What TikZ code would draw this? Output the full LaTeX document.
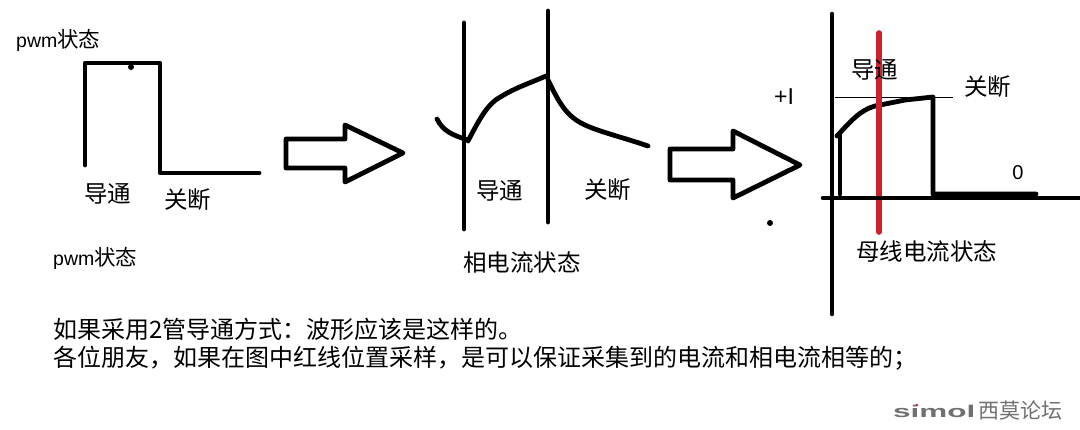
\documentclass[tikz,border=0pt]{standalone}
\usepackage{fontspec}
\setmainfont{Noto Sans CJK SC}
\newfontfamily\latinfont{Liberation Sans}
\definecolor{markred}{RGB}{203,34,48}
\definecolor{logogray}{RGB}{112,112,112}
\newcommand{\pwmword}{{\latinfont\fontsize{19.5}{20}\selectfont pwm}}
\tikzset{
  x=1pt,y=-1pt,
  heavy/.style={draw=black,line width=4.8pt,line cap=round,line join=round},
  axisline/.style={draw=black,line width=4.6pt,line cap=round},
  label/.style={inner sep=0pt,anchor=west,font=\fontsize{23.5}{24}\selectfont},
  pwmlabel/.style={inner sep=0pt,anchor=west,font=\fontsize{21.5}{22}\selectfont},
  body/.style={inner sep=0pt,anchor=west,font=\fontsize{24}{24}\selectfont},
  mathlabel/.style={inner sep=0pt,font=\latinfont\fontsize{20}{20}\selectfont},
}
\begin{document}
\begin{tikzpicture}
\useasboundingbox (0,0) rectangle (1080,429);
\fill[white] (0,0) rectangle (1080,429);

% Gate drive waveform
\draw[heavy] (85,165) -- (85,63) -- (160,63) -- (160,173) -- (259,173);
\fill (131,67) circle (3pt);
\node[pwmlabel] (pwmtop) at (16,40) {\pwmword 状态};
\node[label] (on1) at (84,194) {导通};
\node[label] (off1) at (164,200) {关断};
\node[pwmlabel] (pwmbot) at (53,258) {\pwmword 状态};

% Hollow block arrows between the stages
\draw[heavy] (286,139) -- (345,139) -- (345,125) -- (403,153) -- (345,182) -- (345,168) -- (286,168) -- cycle;
\draw[heavy] (670,149) -- (733,149) -- (733,131) -- (800,165) -- (733,198) -- (733,180) -- (670,180) -- cycle;

% Phase current
\draw[heavy] (464,23) -- (464,229);
\draw[heavy] (548,11) -- (548,222);
\draw[heavy] (437,119) .. controls (443,131) and (452,135) .. (468,140);
\draw[heavy] (468,141) .. controls (480,118) and (488,103) .. (502,96)
             .. controls (515,88) and (530,83) .. (546,76);
\draw[heavy] (548,80) .. controls (558,100) and (565,116) .. (585,125)
             .. controls (600,132) and (625,138) .. (648,146);
\node[label] (on2) at (476,191) {导通};
\node[label] (off2) at (584,190) {关断};
\node[label] (phase) at (463,263) {相电流状态};

% Bus current; the sampling mark lies over the waveform, the time axis over the mark
\draw[axisline] (832,14) -- (832,314);
\draw[black,line width=0.9pt] (835,97) -- (953,97);
\draw[heavy] (840,194) -- (840,136);
\draw[heavy] (837,136) .. controls (850,122) and (860,110) .. (875,106)
             -- (905,100) -- (933,97) -- (933,194) -- (1036,194);
\draw[markred,line width=5.6pt,line cap=round] (879,33) -- (879,232);
\draw[axisline] (823,198) -- (1080,198);
\node[label] (on3) at (851,70) {导通};
\node[label] (off3) at (964,87) {关断};
\node[mathlabel,font=\latinfont\fontsize{23}{23}\selectfont] (plusi) at (784,97) {+I};
\node[mathlabel] (zero) at (1018,173) {0};
\fill (770,223) circle (3pt);
\node[label] (bus) at (856,252) {母线电流状态};

% Notes below the diagram
\node[body] (note1) at (53,329) {如果采用2管导通方式：波形应该是这样的。};
\node[body] (note2) at (53,358) {各位朋友，如果在图中红线位置采样，是可以保证采集到的电流和相电流相等的；};

% Forum logo
\node[inner sep=0pt,anchor=west,text=logogray,font=\latinfont\bfseries\fontsize{17}{17}\selectfont] (logo) at (893,411) {\scalebox{1.85}[1]{simol}};
\fill[markred] (logo.west) ++(24,-6) circle (1.3pt);
\node[inner sep=0pt,anchor=west,text=logogray,font=\fontsize{21}{21}\selectfont] (logocn) at (978,411) {西莫论坛};
\end{tikzpicture}
\end{document}
